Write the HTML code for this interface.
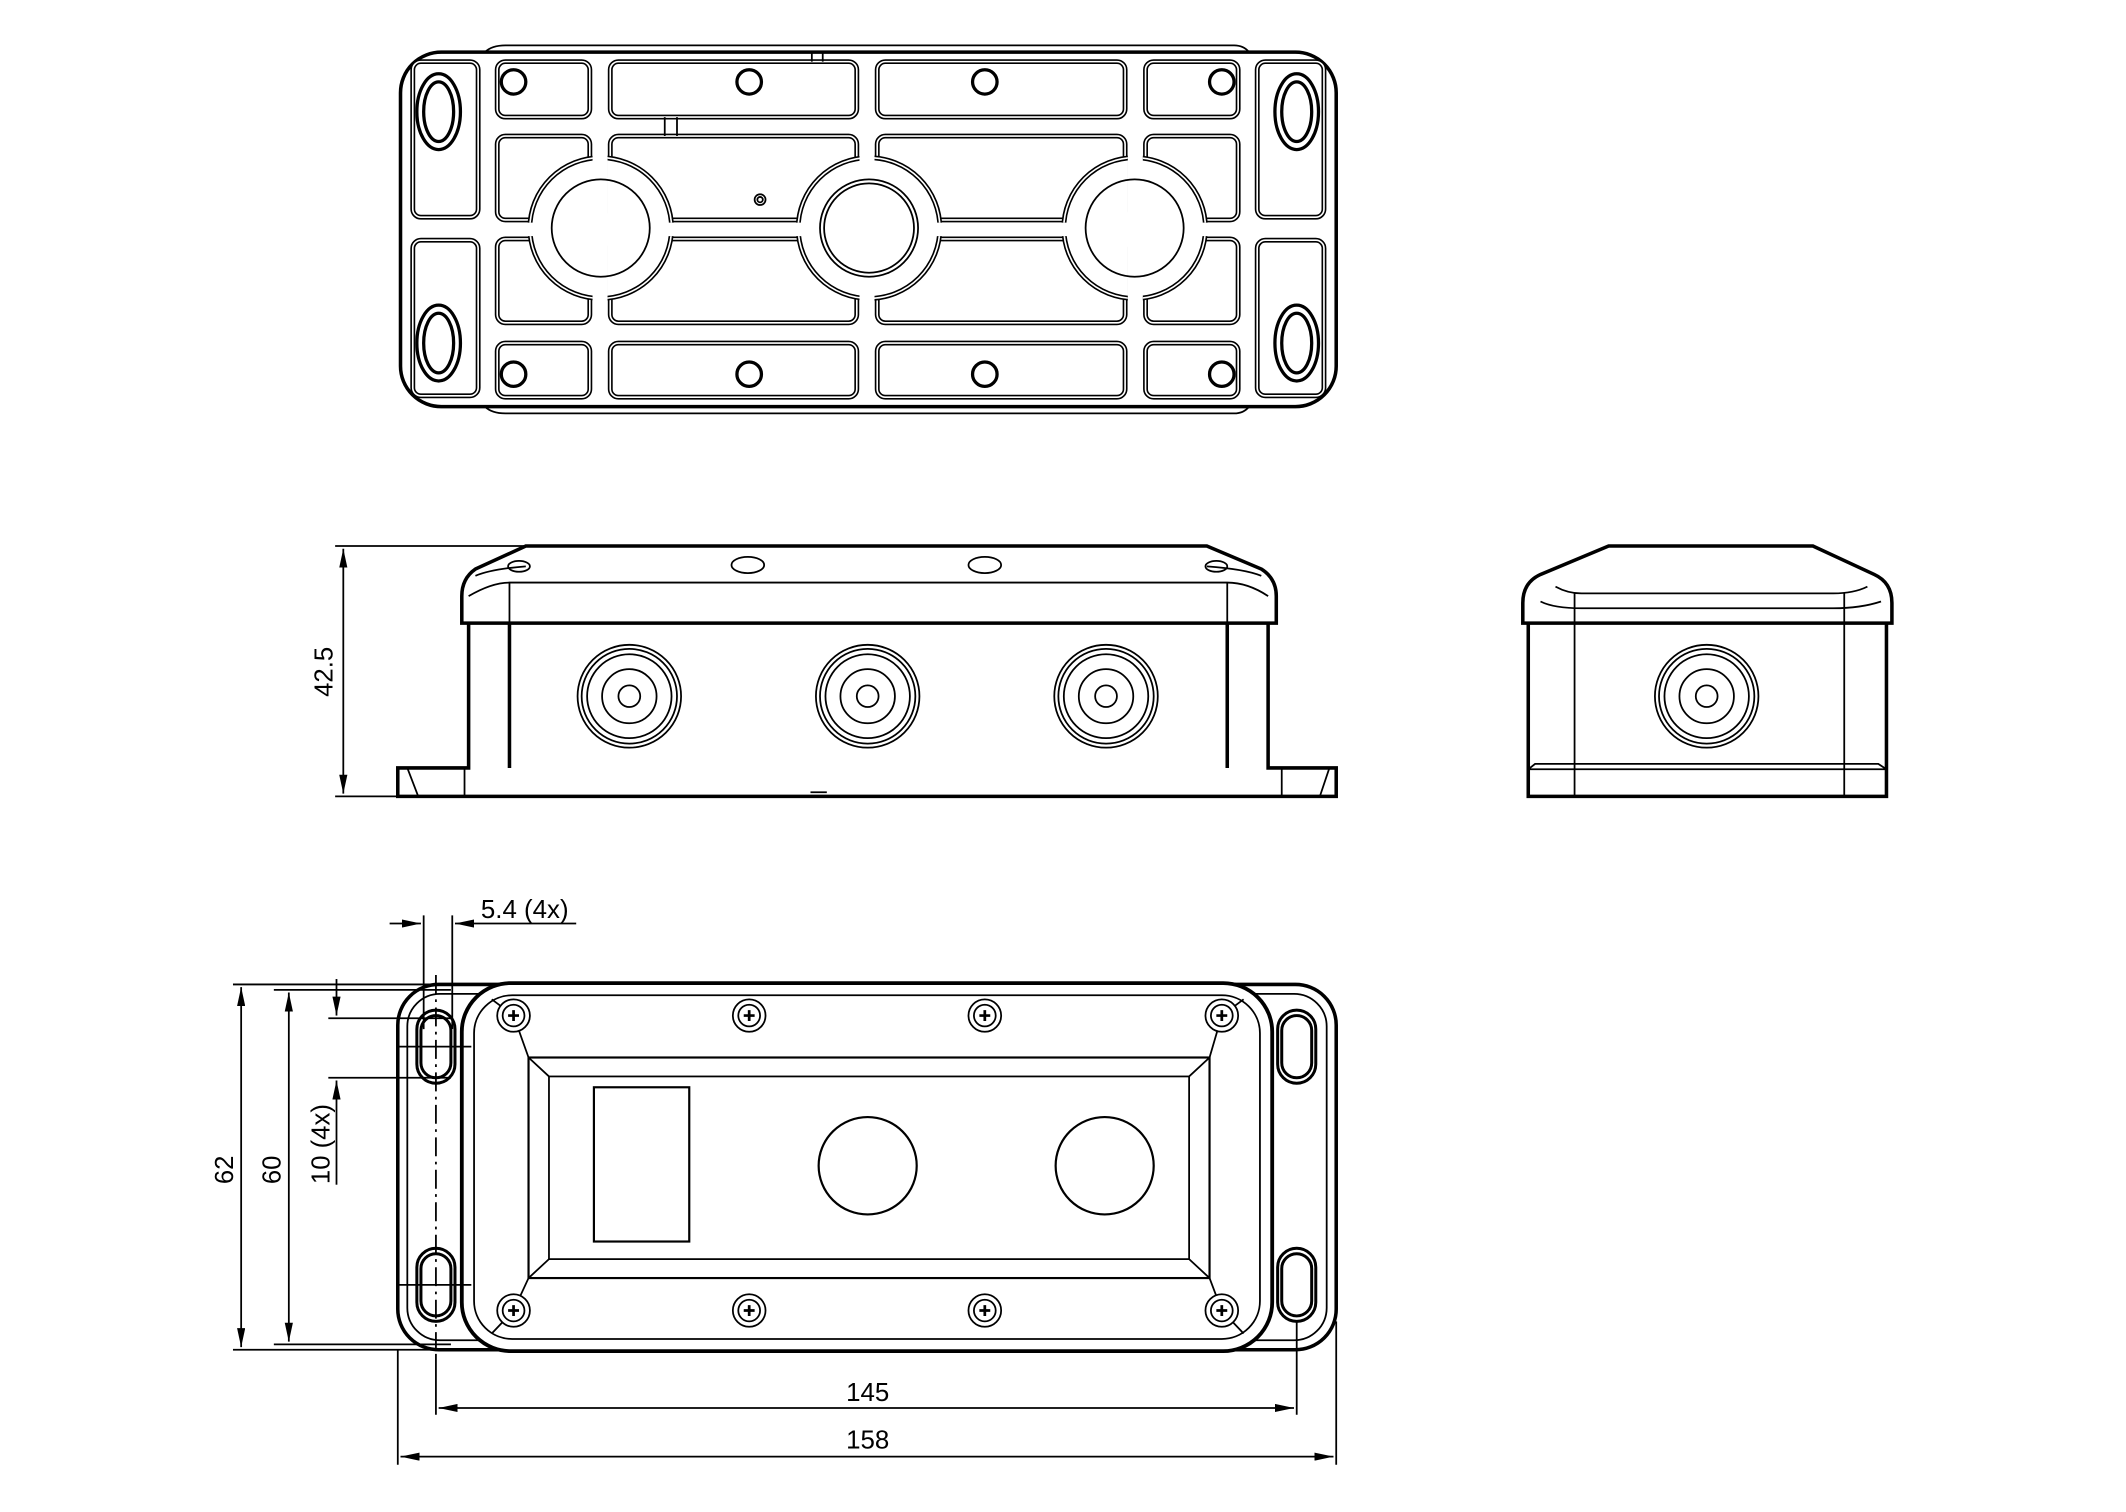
<!DOCTYPE html>
<html><head><meta charset="utf-8"><style>
html,body{margin:0;padding:0;background:#fff}
svg{display:block}
text{font-family:"Liberation Sans",sans-serif;font-size:19px;fill:#000}
</style></head><body>
<svg width="2126" height="1512" viewBox="0 0 1550 1102.3" xmlns="http://www.w3.org/2000/svg">
<defs>
<marker id="a" viewBox="0 0 14 6" refX="14" refY="3" markerWidth="14" markerHeight="6" markerUnits="userSpaceOnUse" orient="auto-start-reverse"><path d="M0,0 L14,3 L0,6 z" fill="#000"/></marker>
<clipPath id="cells">
<rect x="362" y="98" width="72" height="66"/><rect x="445" y="98" width="185" height="66"/><rect x="641" y="98" width="186" height="66"/><rect x="838" y="98" width="72" height="66"/>
<rect x="362" y="174" width="72" height="66"/><rect x="445" y="174" width="185" height="66"/><rect x="641" y="174" width="186" height="66"/><rect x="838" y="174" width="72" height="66"/>
</clipPath>
<g id="mid">
<rect x="364" y="100" width="68" height="62" rx="6"/><rect x="447" y="100" width="181" height="62" rx="6"/><rect x="643" y="100" width="182" height="62" rx="6"/><rect x="840" y="100" width="68" height="62" rx="6"/>
<rect x="364" y="176" width="68" height="62" rx="6"/><rect x="447" y="176" width="181" height="62" rx="6"/><rect x="643" y="176" width="182" height="62" rx="6"/><rect x="840" y="176" width="68" height="62" rx="6"/>
</g>
<g id="rim"><circle cx="440" cy="168" r="52"/><circle cx="637" cy="168" r="52"/><circle cx="832" cy="168" r="52"/></g>
<g id="cellsTB">
<rect x="302" y="45" width="48" height="115" rx="6"/><rect x="302" y="177" width="48" height="115" rx="6"/>
<rect x="922" y="45" width="49" height="115" rx="6"/><rect x="922" y="177" width="49" height="115" rx="6"/>
<rect x="364" y="45" width="68" height="41" rx="6"/><rect x="447" y="45" width="181" height="41" rx="6"/><rect x="643" y="45" width="182" height="41" rx="6"/><rect x="840" y="45" width="68" height="41" rx="6"/>
<rect x="364" y="253" width="68" height="40" rx="6"/><rect x="447" y="253" width="181" height="40" rx="6"/><rect x="643" y="253" width="182" height="40" rx="6"/><rect x="840" y="253" width="68" height="40" rx="6"/>
</g>
</defs>
<rect width="1550" height="1102.3" fill="#fff"/>
<g transform="matrix(0.993 0 0 0.9865 1.05 0.51)">
<g fill="none" stroke="#000" stroke-width="1.3">
<!-- TOP VIEW -->
<rect x="293" y="38" width="687" height="262" rx="30" stroke-width="2.6"/>
<path d="M355,38 Q360,33 370,33 L905,33 Q912,33 916,38"/>
<path d="M355,300 Q360,305 370,305 L905,305 Q912,305 916,300"/>
<use href="#cellsTB" stroke-width="3.6"/>
<use href="#cellsTB" stroke="#fff" stroke-width="1.2"/>
<use href="#mid" stroke-width="3.6"/>
<use href="#mid" stroke="#fff" stroke-width="1.2"/>
<g clip-path="url(#cells)">
<use href="#rim" fill="#fff" stroke-width="3.6"/>
<use href="#rim" stroke="#fff" stroke-width="1.2"/>
</g>
<circle cx="440" cy="168" r="36"/><circle cx="637" cy="168" r="36"/><circle cx="637" cy="168" r="33"/><circle cx="832" cy="168" r="36"/>
<circle cx="557" cy="147" r="4"/><circle cx="557" cy="147" r="2"/>
<g stroke-width="2.4">
<ellipse cx="321" cy="82" rx="16" ry="28"/><ellipse cx="321" cy="82" rx="11" ry="22"/>
<ellipse cx="321" cy="253" rx="16" ry="28"/><ellipse cx="321" cy="253" rx="11" ry="22"/>
<ellipse cx="951" cy="82" rx="16" ry="28"/><ellipse cx="951" cy="82" rx="11" ry="22"/>
<ellipse cx="951" cy="253" rx="16" ry="28"/><ellipse cx="951" cy="253" rx="11" ry="22"/>
<circle cx="376" cy="60" r="9"/><circle cx="549" cy="60" r="9"/><circle cx="722" cy="60" r="9"/><circle cx="896" cy="60" r="9"/>
<circle cx="376" cy="276" r="9"/><circle cx="549" cy="276" r="9"/><circle cx="722" cy="276" r="9"/><circle cx="896" cy="276" r="9"/>
</g>
<path d="M595,38 V45 M603,38 V45 M487,86 V100 M496,86 V100"/>

<!-- SIDE VIEW -->
<g stroke-width="2.6">
<path d="M385,403 H885 L925,420 Q936,427 936,440 V460 H338 V440 Q338,427 348,420 Z"/>
<path d="M343,460 V567 H291 V588 H980 V567 H930 V460"/>
<path d="M373,460 V567 M900,460 V567"/>
</g>
<path d="M348,425 Q360,420 385,418 M925,425 Q913,420 885,418"/>
<path d="M343,440 Q360,430 373,430 H900 Q915,430 930,440"/>
<path d="M373,430 V460 M900,430 V460"/>
<path d="M298,567 L306,588 M340,567 V588 M940,567 V588 M975,567 L968,588"/>
<ellipse cx="548" cy="417" rx="12" ry="6"/><ellipse cx="722" cy="417" rx="12" ry="6"/>
<ellipse cx="380" cy="418" rx="8" ry="4"/><ellipse cx="892" cy="418" rx="8" ry="4"/>
<path d="M594,585 H606"/>
<g>
<circle cx="461" cy="514" r="38"/><circle cx="461" cy="514" r="35"/><circle cx="461" cy="514" r="31"/><circle cx="461" cy="514" r="20"/><circle cx="461" cy="514" r="8"/>
<circle cx="636" cy="514" r="38"/><circle cx="636" cy="514" r="35"/><circle cx="636" cy="514" r="31"/><circle cx="636" cy="514" r="20"/><circle cx="636" cy="514" r="8"/>
<circle cx="811" cy="514" r="38"/><circle cx="811" cy="514" r="35"/><circle cx="811" cy="514" r="31"/><circle cx="811" cy="514" r="20"/><circle cx="811" cy="514" r="8"/>
</g>
<path d="M245,403 H385 M245,588 H290"/>
<path d="M251,405 V586" marker-start="url(#a)" marker-end="url(#a)"/>

<!-- END VIEW -->
<g stroke-width="2.6">
<path d="M1180,403 H1330 L1375,424 Q1388,430 1388,445 V460 H1117 V445 Q1117,430 1130,424 Z"/>
<path d="M1121,460 V588 H1384 V460"/>
</g>
<path d="M1141,433 Q1150,438 1160,438 H1345 Q1360,438 1370,433 M1130,444 Q1140,449 1160,449 H1345 Q1365,449 1380,444"/>
<path d="M1155,438 V588 M1353,438 V588 M1121,568 L1126,564 H1378 L1384,568 M1121,568 H1384"/>
<circle cx="1252" cy="514" r="38"/><circle cx="1252" cy="514" r="35"/><circle cx="1252" cy="514" r="31"/><circle cx="1252" cy="514" r="20"/><circle cx="1252" cy="514" r="8"/>

<!-- BOTTOM VIEW -->
<rect x="291" y="727" width="689" height="270" rx="30" stroke-width="2.6"/>
<rect x="298" y="734" width="675" height="256" rx="24"/>
<rect x="338" y="726" width="595" height="272" rx="36" fill="#fff" stroke-width="2.8"/>
<rect x="347" y="735" width="577" height="254" rx="28"/>
<rect x="387" y="781" width="500" height="163" stroke-width="1.6"/>
<rect x="402" y="795" width="470" height="135"/>
<path d="M376,750 L387,781 M896,750 L887,781 M376,968 L387,944 M896,968 L887,944 M387,781 L402,795 M887,781 L872,795 M387,944 L402,930 M887,944 L872,930"/>
<path d="M360,738 L376,750 M912,738 L896,750 M360,985 L376,968 M912,985 L896,968"/>
<rect x="435" y="803" width="70" height="114" stroke-width="1.6"/>
<circle cx="636" cy="861" r="36" stroke-width="1.6"/><circle cx="810" cy="861" r="36" stroke-width="1.6"/>
<g fill="#fff">
<circle cx="376" cy="750" r="12"/><circle cx="549" cy="750" r="12"/><circle cx="722" cy="750" r="12"/><circle cx="896" cy="750" r="12"/>
<circle cx="376" cy="968" r="12"/><circle cx="549" cy="968" r="12"/><circle cx="722" cy="968" r="12"/><circle cx="896" cy="968" r="12"/>
</g>
<g>
<circle cx="376" cy="750" r="8"/><circle cx="549" cy="750" r="8"/><circle cx="722" cy="750" r="8"/><circle cx="896" cy="750" r="8"/>
<circle cx="376" cy="968" r="8"/><circle cx="549" cy="968" r="8"/><circle cx="722" cy="968" r="8"/><circle cx="896" cy="968" r="8"/>
</g>
<g stroke-width="2">
<path d="M372,750 h8 M376,746 v8 M545,750 h8 M549,746 v8 M718,750 h8 M722,746 v8 M892,750 h8 M896,746 v8"/>
<path d="M372,968 h8 M376,964 v8 M545,968 h8 M549,964 v8 M718,968 h8 M722,964 v8 M892,968 h8 M896,964 v8"/>
</g>
<g stroke-width="2.2">
<rect x="305" y="746" width="28" height="54" rx="14"/><rect x="308" y="750" width="22" height="46" rx="11"/>
<rect x="305" y="922" width="28" height="54" rx="14"/><rect x="308" y="926" width="22" height="46" rx="11"/>
<rect x="937" y="746" width="28" height="54" rx="14"/><rect x="940" y="750" width="22" height="46" rx="11"/>
<rect x="937" y="922" width="28" height="54" rx="14"/><rect x="940" y="926" width="22" height="46" rx="11"/>
</g>
<path d="M319,720 V1000" stroke-dasharray="14,4,2,4"/>
<path d="M290,773 H345 M290,949 H345"/>
<path d="M170,727 H345 M200,731 H330 M200,993 H330 M170,997 H355"/>
<path d="M176,729 V995" marker-start="url(#a)" marker-end="url(#a)"/>
<path d="M211,733 V991" marker-start="url(#a)" marker-end="url(#a)"/>
<path d="M240,752 H330 M240,796 H330"/>
<path d="M246,723 V750" marker-end="url(#a)"/>
<path d="M246,875 V798" marker-end="url(#a)"/>
<path d="M310,676 V760 M331,676 V760"/>
<path d="M285,682 H308" marker-end="url(#a)"/>
<path d="M422,682 H333" marker-end="url(#a)"/>
<path d="M291,997 V1082 M319,1000 V1045 M951,976 V1045 M980,976 V1082"/>
<path d="M321,1040 H949" marker-start="url(#a)" marker-end="url(#a)"/>
<path d="M293,1076 H978" marker-start="url(#a)" marker-end="url(#a)"/>
</g>
<text x="636" y="1035" text-anchor="middle">145</text>
<text x="636" y="1070" text-anchor="middle">158</text>
<text x="352" y="678">5.4 (4x)</text>
<text transform="translate(243,496) rotate(-90)" text-anchor="middle">42.5</text>
<text transform="translate(170,864) rotate(-90)" text-anchor="middle">62</text>
<text transform="translate(205,864) rotate(-90)" text-anchor="middle">60</text>
<text transform="translate(241,845) rotate(-90)" text-anchor="middle">10 (4x)</text>
</g>
</svg>
</body></html>
